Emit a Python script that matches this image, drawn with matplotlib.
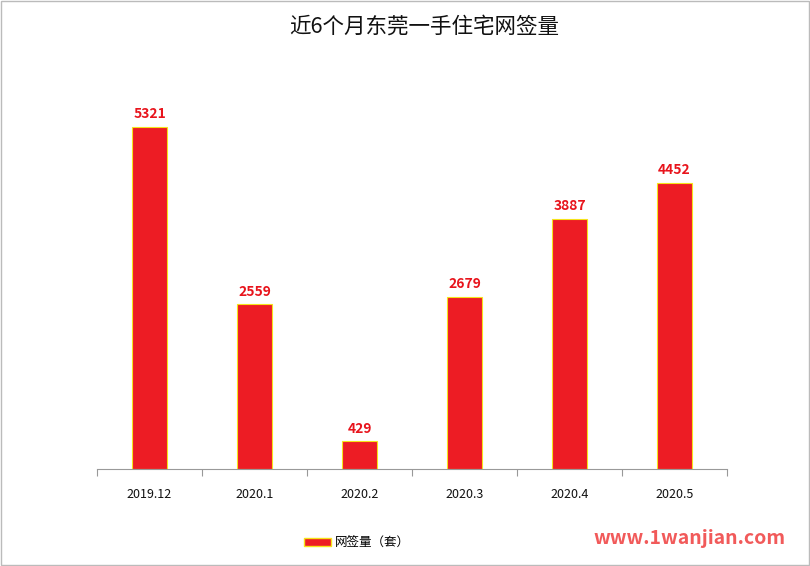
import matplotlib
matplotlib.use("Agg")
import matplotlib.pyplot as plt
from matplotlib.patches import Rectangle, Patch

plt.rcParams['font.family'] = ['Noto Sans CJK SC', 'DejaVu Sans']

categories = ["2019.12", "2020.1", "2020.2", "2020.3", "2020.4", "2020.5"]
values = [5321, 2559, 429, 2679, 3887, 4452]
series_name = "网签量（套）"
title = "近6个月东莞一手住宅网签量"

fig = plt.figure(figsize=(8.1, 5.66), dpi=100)
ax = fig.add_axes([97/810, 1-469/566, 630/810, 389/566])

x = list(range(len(categories)))
bars = ax.bar(x, values, width=0.33, color="#ED1C24", edgecolor="#F5E31A", linewidth=0.8)
ax.set_xlim(-0.5, len(categories)-0.5)
ax.set_ylim(0, 6050)

for xi, v in zip(x, values):
    ax.text(xi, v + 90, str(v), ha="center", va="bottom", color="#E8141C",
            fontsize=10, fontweight="bold")

for s in ["top", "right", "left"]:
    ax.spines[s].set_visible(False)
ax.spines["bottom"].set_color("#999999")
ax.spines["bottom"].set_linewidth(0.8)
ax.set_yticks([])
ax.set_xticks([i + 0.5 for i in range(-1, len(categories))], minor=False)
ax.set_xticklabels([""] * (len(categories) + 1))
ax.tick_params(axis="x", length=5, color="#999999", direction="out")
for xi, c in zip(x, categories):
    ax.text(xi, -0.05, c, transform=ax.get_xaxis_transform(), ha="center", va="top",
            fontsize=9, color="#111111")

fig.text(424/810, 1-27/566, title, ha="center", va="center", fontsize=15.5, color="#111111")

leg = fig.legend(handles=[Patch(facecolor="#ED1C24", edgecolor="#F5E31A", label=series_name)],
                 loc="center", bbox_to_anchor=(357/810, 1-543/566), frameon=False,
                 fontsize=9, handlelength=2.2, handleheight=0.6, handletextpad=0.3)

fig.text(690/810, 1-538/566, "www.1wanjian.com", ha="center", va="center", fontsize=14,
         fontweight="bold", color="#F04848", alpha=0.9)

fig.patches.append(Rectangle((0.001, 0.001), 0.998, 0.998, transform=fig.transFigure,
                             fill=False, edgecolor="#BBBBBB", linewidth=1))

fig.savefig("out.png", dpi=100)
